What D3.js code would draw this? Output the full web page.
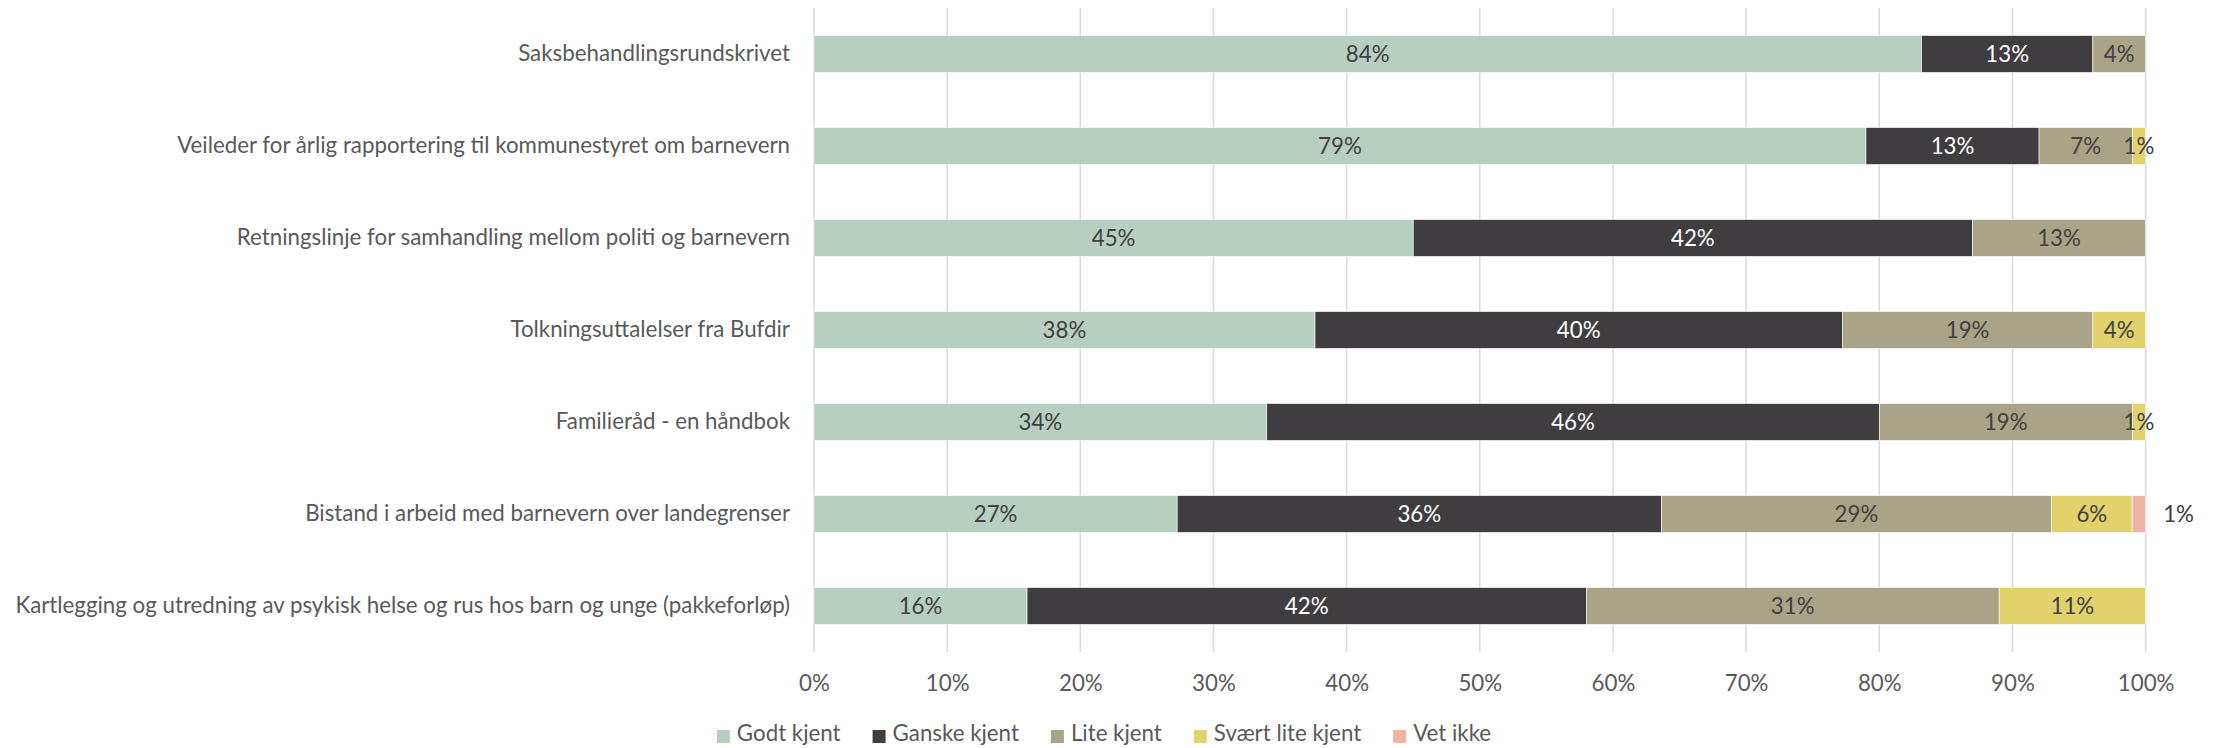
<!DOCTYPE html>
<html>
<head>
<meta charset="utf-8">
<script src="https://cdn.jsdelivr.net/npm/d3@7"></script>
<style>
  html, body { margin: 0; padding: 0; background: #ffffff; }
  svg { display: block; }
  text { font-family: Lato, "Open Sans", sans-serif; }
</style>
</head>
<body>
<svg id="chart" width="2216" height="748"></svg>
<script>
// Categories (top to bottom)
const categories = [
  "Saksbehandlingsrundskrivet",
  "Veileder for årlig rapportering til kommunestyret om barnevern",
  "Retningslinje for samhandling mellom politi og barnevern",
  "Tolkningsuttalelser fra Bufdir",
  "Familieråd - en håndbok",
  "Bistand i arbeid med barnevern over landegrenser",
  "Kartlegging og utredning av psykisk helse og rus hos barn og unge (pakkeforløp)"
];

// Series names (legend order)
const seriesNames = ["Godt kjent", "Ganske kjent", "Lite kjent", "Svært lite kjent", "Vet ikke"];

// Percent values per series, one per category
const godtKjent       = [84, 79, 45, 38, 34, 27, 16];
const ganskeKjent     = [13, 13, 42, 40, 46, 36, 42];
const liteKjent       = [4, 7, 13, 19, 19, 29, 31];
const svaertLiteKjent = [0, 1, 0, 4, 1, 6, 11];
const vetIkke         = [0, 0, 0, 0, 0, 1, 0];

// Axis tick values
const tickValues = [0, 0.1, 0.2, 0.3, 0.4, 0.5, 0.6, 0.7, 0.8, 0.9, 1.0];

const seriesColors = ["#b7cfc0", "#403d40", "#a9a487", "#e2d26b", "#efb4a4"];
const labelColors  = ["#404040", "#ffffff", "#404040", "#404040", "#404040"];

const seriesValues = [godtKjent, ganskeKjent, liteKjent, svaertLiteKjent, vetIkke];
const rows = categories.map((c, i) => {
  const r = { category: c };
  seriesNames.forEach((s, k) => { r[s] = seriesValues[k][i]; });
  return r;
});

const svg = d3.select("#chart");
const textColor = "#595959";
const fontSize = 22.3;

const x = d3.scaleLinear().domain([0, 1]).range([814, 2145.6]);
const y = d3.scaleBand().domain(categories).range([8, 652]).paddingInner(0.6).paddingOuter(0.3);

// 100% stacked layout
const stacked = d3.stack().keys(seriesNames).offset(d3.stackOffsetExpand)(rows);

// Vertical gridlines
svg.append("g")
  .selectAll("line")
  .data(tickValues)
  .join("line")
  .attr("x1", d => x(d)).attr("x2", d => x(d))
  .attr("y1", 8).attr("y2", 652)
  .attr("stroke", "#d9d9d9")
  .attr("stroke-width", 1.5);

// X axis tick labels
const xAxis = d3.axisBottom(x).tickValues(tickValues).tickFormat(d3.format(".0%")).tickSize(0).tickPadding(0);
const gx = svg.append("g").attr("transform", "translate(0,683)").call(xAxis);
gx.select(".domain").remove();
gx.selectAll("text")
  .attr("y", 0).attr("dy", "0.35em")
  .attr("fill", textColor)
  .style("font-size", fontSize + "px")
  .style("font-family", "Lato, 'Open Sans', sans-serif");

// Category labels
const yAxis = d3.axisLeft(y).tickSize(0).tickPadding(0);
const gy = svg.append("g").attr("transform", "translate(790,0)").call(yAxis);
gy.select(".domain").remove();
gy.selectAll("text")
  .attr("fill", textColor)
  .style("font-size", fontSize + "px")
  .style("font-family", "Lato, 'Open Sans', sans-serif");

// Bar segments
const layers = svg.append("g")
  .selectAll("g")
  .data(stacked)
  .join("g")
  .attr("fill", (d, i) => seriesColors[i]);

layers.selectAll("rect")
  .data(d => d.map(p => ({ p, key: d.key })))
  .join("rect")
  .attr("x", d => x(d.p[0]))
  .attr("width", d => Math.max(0, x(d.p[1]) - x(d.p[0])))
  .attr("y", d => y(d.p.data.category))
  .attr("height", y.bandwidth())
  .attr("stroke", "#ffffff")
  .attr("stroke-width", 0.6);

// Segment value labels (the smallest category sits just outside the bar end)
const lastKey = seriesNames[seriesNames.length - 1];
stacked.forEach((layer, k) => {
  svg.append("g")
    .selectAll("text")
    .data(layer.filter(p => p.data[layer.key] > 0))
    .join("text")
    .attr("x", p => layer.key === lastKey ? x(1) + 33 : (x(p[0]) + x(p[1])) / 2)
    .attr("y", p => y(p.data.category) + y.bandwidth() / 2)
    .attr("dy", "0.35em")
    .attr("text-anchor", "middle")
    .attr("fill", labelColors[k])
    .style("font-size", fontSize + "px")
    .text(p => p.data[layer.key] + "%");
});

// Legend
const legend = svg.append("g");
let cursor = 0;
seriesNames.forEach((name, i) => {
  const g = legend.append("g");
  g.append("rect").attr("x", 0).attr("y", -11).attr("width", 13).attr("height", 13).attr("fill", seriesColors[i]);
  const t = g.append("text").attr("x", 20).attr("y", 0)
    .attr("fill", textColor).style("font-size", fontSize + "px").text(name);
  const w = 20 + t.node().getComputedTextLength();
  g.attr("transform", `translate(${cursor},0)`);
  cursor += w + 32;
});
const legendWidth = cursor - 32;
legend.attr("transform", `translate(${1104 - legendWidth / 2},741)`);
</script>
</body>
</html>
